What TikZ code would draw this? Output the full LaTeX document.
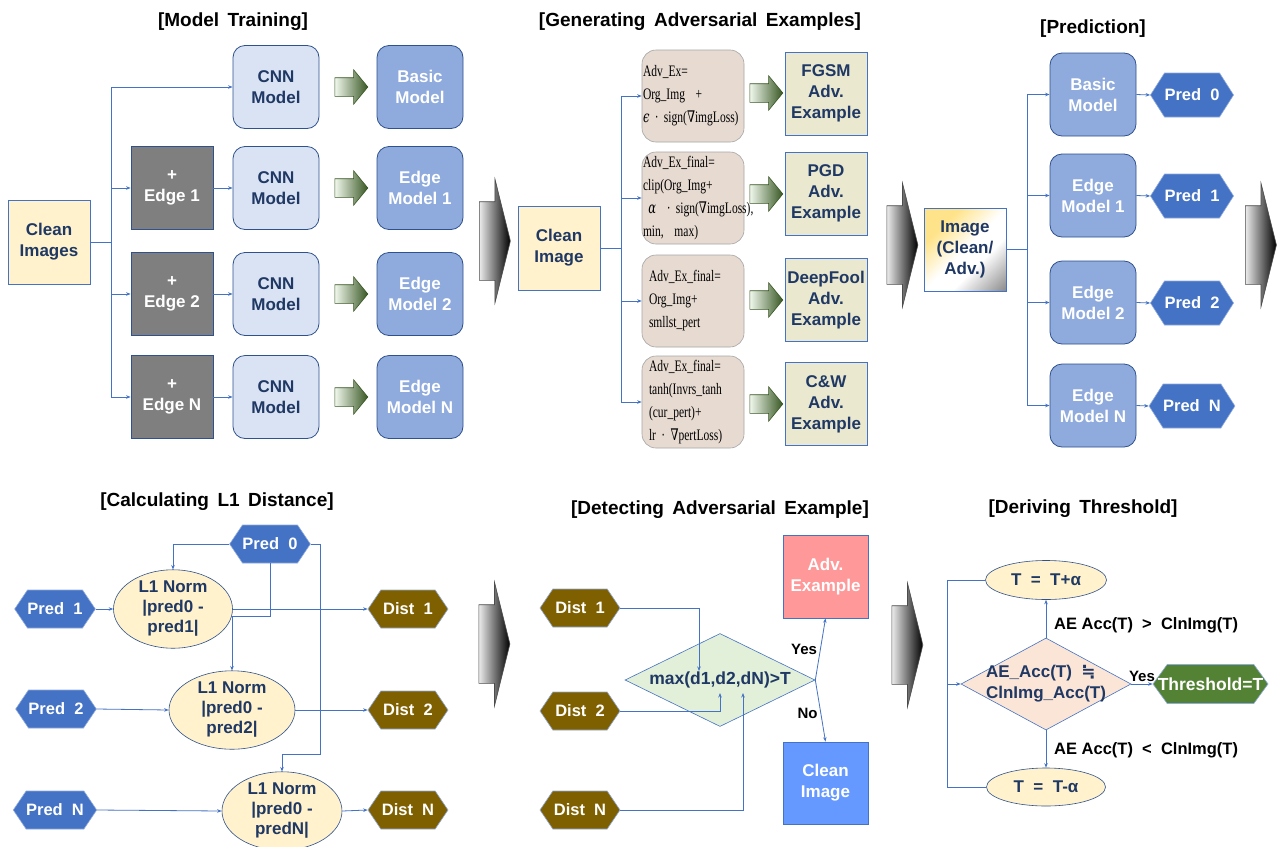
\documentclass[tikz,border=0pt]{standalone}
\usepackage{fontspec}
\setmainfont{Liberation Sans}
\newfontfamily\frm[FakeStretch=0.72]{Liberation Serif}
\newfontfamily\frmsym[FakeStretch=0.72]{DejaVu Serif}
\newfontfamily\djv{DejaVu Sans}
\usetikzlibrary{shapes.geometric,shapes.symbols,shapes.arrows,arrows.meta,calc}
\definecolor{navy}{HTML}{1F3864}
\definecolor{linkblue}{HTML}{4472C4}
\definecolor{cleanfill}{HTML}{FFF2CC}
\definecolor{boxborder}{HTML}{2F528F}
\definecolor{cnnfill}{HTML}{DAE3F3}
\definecolor{modelfill}{HTML}{8FAADC}
\definecolor{edgegray}{HTML}{7F7F7F}
\definecolor{frmfill}{HTML}{E6DAD1}
\definecolor{frmborder}{HTML}{A5A5A5}
\definecolor{resfill}{HTML}{EAE8CF}
\definecolor{predfill}{HTML}{4472C4}
\definecolor{hexborder}{HTML}{8FAADC}
\definecolor{distfill}{HTML}{7F6000}
\definecolor{advfill}{HTML}{FF9999}
\definecolor{clnfill}{HTML}{6699FF}
\definecolor{diagreen}{HTML}{E2F0D9}
\definecolor{peach}{HTML}{FBE5D6}
\definecolor{thrgreen}{HTML}{548235}
\definecolor{glight}{HTML}{F0F7EC}
\definecolor{gdark}{HTML}{385723}
\definecolor{imgyellow}{HTML}{FFE38A}
\definecolor{imgdark}{HTML}{404040}
\pgfdeclarehorizontalshading{imgsh}{100bp}{color(0bp)=(imgyellow); color(30bp)=(imgyellow); color(50bp)=(white); color(62bp)=(white); color(100bp)=(imgdark)}
\tikzset{
  base/.style={font=\fontsize{17}{21}\selectfont\bfseries, align=center, inner sep=0pt, text=navy},
  ttl/.style={font=\fontsize{19}{22}\selectfont\bfseries, text=black, inner sep=0pt},
  cleanbox/.style={base, draw=linkblue, fill=cleanfill, line width=0.8pt, minimum width=82pt, minimum height=84pt},
  edgebox/.style={base, draw=boxborder, fill=edgegray, text=white, line width=0.8pt, minimum width=82pt, minimum height=83pt},
  cnnbox/.style={base, draw=boxborder, fill=cnnfill, line width=0.8pt, rounded corners=12pt, minimum width=86pt, minimum height=83pt},
  modelbox/.style={cnnbox, fill=modelfill, text=white},
  frmbox/.style={draw=frmborder, fill=frmfill, line width=0.6pt, rounded corners=14pt, minimum width=102pt, minimum height=92pt, text width=100pt, align=left, inner sep=1pt, font=\frm\fontsize{16}{23}\selectfont, text=black},
  resbox/.style={base, draw=linkblue, fill=resfill, line width=0.8pt, minimum width=82pt, minimum height=83pt},
  hexbase/.style={signal, signal to=east and west, inner sep=0pt, font=\fontsize{16.5}{19}\selectfont\bfseries, text=white, line width=0.6pt},
  predhex/.style={hexbase, signal pointer angle=115, fill=predfill, draw=hexborder, minimum width=80pt, minimum height=44pt},
  predhexs/.style={hexbase, signal pointer angle=112, fill=predfill, draw=hexborder, minimum width=80pt, minimum height=38pt},
  disthex/.style={hexbase, signal pointer angle=112, fill=distfill, draw=hexborder, minimum width=80pt, minimum height=38pt},
  l1ell/.style={base, ellipse, draw=boxborder, fill=cleanfill, line width=0.6pt, font=\fontsize{17}{20}\selectfont\bfseries},
  link/.style={draw=linkblue, line width=0.8pt},
  arr/.style={link, -{Stealth[length=4.5pt,width=3.5pt]}},
  garrow/.style={single arrow, single arrow head extend=8pt, single arrow tip angle=101, minimum height=33pt, inner xsep=0pt, inner ysep=9pt, draw=gdark, left color=glight, right color=gdark, line width=0.6pt},
  bigarrow/.style={single arrow, single arrow head extend=22.5pt, single arrow tip angle=152, minimum height=31pt, inner xsep=0pt, inner ysep=39pt, draw=black!70, left color=black!8, right color=black, line width=0.6pt},
  yn/.style={font=\fontsize{15}{17}\selectfont\bfseries, text=black, inner sep=1pt},
  lab/.style={font=\fontsize{16.5}{19}\selectfont\bfseries, text=black, inner sep=0pt},
}
\begin{document}
\begin{tikzpicture}[x=1pt,y=-1pt]
\useasboundingbox[fill=white] (0,0) rectangle (1279,846);

% ---------------- Model Training ----------------
\node[ttl] (t1) at (233,22) {[Model\,\ Training]};
\node[cleanbox] (ci) at (49,242) {Clean\\Images};
\node[edgebox] (e1) at (172,188) {+\\Edge 1};
\node[edgebox] (e2) at (172,294) {+\\Edge 2};
\node[edgebox] (eN) at (172,397) {+\\Edge N};
\node[cnnbox] (c0) at (276,87) {CNN\\Model};
\node[cnnbox] (c1) at (276,188) {CNN\\Model};
\node[cnnbox] (c2) at (276,294) {CNN\\Model};
\node[cnnbox] (cN) at (276,397) {CNN\\Model};
\node[garrow] (g0) at (347.5,87) {};
\node[garrow] (g1) at (347.5,188) {};
\node[garrow] (g2) at (347.5,294) {};
\node[garrow] (g3) at (347.5,397) {};
\node[modelbox] (m0) at (420,87) {Basic\\Model};
\node[modelbox] (m1) at (420,188) {Edge\\Model 1};
\node[modelbox] (m2) at (420,294) {Edge\\Model 2};
\node[modelbox] (mN) at (420,397) {Edge\\Model N};
\coordinate (j1) at (111,242);
\draw[link] (ci.east) -- (j1);
\draw[arr] (j1) |- (c0.west);
\draw[arr] (j1) |- (e1.west);
\draw[arr] (j1) |- (e2.west);
\draw[arr] (j1) |- (eN.west);
\draw[arr] (e1.east) -- (c1.west);
\draw[arr] (e2.east) -- (c2.west);
\draw[arr] (eN.east) -- (cN.west);

\node[bigarrow] (s1) at (490,241) {};

% ---------------- Generating Adversarial Examples ----------------
\node[ttl] (t2) at (700,22) {[Generating\,\ Adversarial\,\ Examples]};
\node[cleanbox] (ci2) at (559,248) {Clean\\Image};
\node[frmbox] (f1) at (693,96) {Adv\_Ex=\\Org\_Img~~+\\{\frmsym\itshape ϵ}~·~sign({\frmsym ∇}imgLoss)};
\node[frmbox] (f2) at (693,198) {Adv\_Ex\_final=\\clip(Org\_Img+\\~{\frmsym\itshape α}~~·~sign({\frmsym ∇}imgLoss),\\min,~~max)};
\node[frmbox] (f3) at (693,301) {\hspace*{6pt}Adv\_Ex\_final=\\\hspace*{6pt}Org\_Img+\\\hspace*{6pt}smllst\_pert};
\node[frmbox] (f4) at (693,402) {\hspace*{6pt}Adv\_Ex\_final=\\\hspace*{6pt}tanh(Invrs\_tanh\\\hspace*{6pt}(cur\_pert)+\\\hspace*{6pt}lr~·~{\frmsym ∇}pertLoss)};
\node[garrow] (h1) at (762.5,93) {};
\node[garrow] (h2) at (762.5,194) {};
\node[garrow] (h3) at (762.5,300) {};
\node[garrow] (h4) at (762.5,404) {};
\node[resbox] (r1) at (826,93.5) {FGSM\\Adv.\\Example};
\node[resbox] (r2) at (826,193.5) {PGD\\Adv.\\Example};
\node[resbox] (r3) at (826,300) {DeepFool\\Adv.\\Example};
\node[resbox] (r4) at (826,404) {C\&W\\Adv.\\Example};
\coordinate (j2) at (621,248);
\draw[link] (ci2.east) -- (j2);
\draw[arr] (j2) |- (f1.west);
\draw[arr] (j2) |- (f2.west);
\draw[arr] (j2) |- (f3.west);
\draw[arr] (j2) |- (f4.west);

\node[bigarrow] (s2) at (897.5,245) {};

% ---------------- Prediction ----------------
\node[ttl] (t3) at (1093,29) {[Prediction]};
\node[base, draw=linkblue, line width=0.8pt, shading=imgsh, shading angle=-45, minimum width=82pt, minimum height=83pt] (img) at (965,249.5) {Image\\(Clean/\\Adv.)};
\node[modelbox] (b0) at (1093,94.5) {Basic\\Model};
\node[modelbox] (b1) at (1093,195.5) {Edge\\Model 1};
\node[modelbox] (b2) at (1093,302.5) {Edge\\Model 2};
\node[modelbox] (bN) at (1093,405.5) {Edge\\Model N};
\node[predhex] (x0) at (1192,95) {Pred\ \ 0};
\node[predhex] (x1) at (1192,196) {Pred\ \ 1};
\node[predhex] (x2) at (1192,303) {Pred\ \ 2};
\node[predhex] (xN) at (1192,406) {Pred\ \ N};
\coordinate (j3) at (1027,249.5);
\draw[link] (img.east) -- (j3);
\draw[arr] (j3) |- (b0.west);
\draw[arr] (j3) |- (b1.west);
\draw[arr] (j3) |- (b2.west);
\draw[arr] (j3) |- (bN.west);
\draw[arr] (b0.east) -- (x0.west);
\draw[arr] (b1.east) -- (x1.west);
\draw[arr] (b2.east) -- (x2.west);
\draw[arr] (bN.east) -- (xN.west);

\node[bigarrow] (s3) at (1256,245) {};

% ---------------- Calculating L1 Distance ----------------
\node[ttl] (t4) at (217,502) {[Calculating\,\ L1\,\ Distance]};
\node[predhexs] (p0) at (270,544) {Pred\ \ 0};
\node[predhexs] (p1) at (55,609) {Pred\ \ 1};
\node[predhexs] (p2) at (56,709) {Pred\ \ 2};
\node[predhexs] (pN) at (55,810) {Pred\ \ N};
\node[l1ell, minimum width=119pt, minimum height=76pt] (n1) at (173,609) {L1 Norm\\|pred0 -\\pred1|};
\node[l1ell, minimum width=126pt, minimum height=76pt] (n2) at (232,710) {L1 Norm\\|pred0 -\\pred2|};
\node[l1ell, minimum width=120pt, minimum height=72pt] (nN) at (282,811) {L1 Norm\\|pred0 -\\predN|};
\node[disthex] (d1) at (408,609) {Dist\ \ 1};
\node[disthex] (d2) at (408,710) {Dist\ \ 2};
\node[disthex] (dN) at (408,810) {Dist\ \ N};
\coordinate (k1) at (232,616);
\coordinate (k2) at (320,754);
\draw[arr] (p0.west) -| (n1.north);
\draw[arr] (p0.south) |- (k1) -- (n2.north);
\draw[arr] (p0.east) -| (k2) -| (nN.north);
\draw[arr] (p1.east) -- (n1.west);
\draw[arr] (p2.east) -- (n2.west);
\draw[arr] (pN.east) -- (nN.west);
\draw[arr] (n1.east) -- (d1.west);
\draw[arr] (n2.east) -- (d2.west);
\draw[arr] (nN.east) -- (dN.west);

\node[bigarrow] (s4) at (489.5,644) {};

% ---------------- Detecting Adversarial Example ----------------
\node[ttl] (t5) at (720,510) {[Detecting\,\ Adversarial\,\ Example]};
\node[disthex] (q1) at (580,608) {Dist\ \ 1};
\node[disthex] (q2) at (580,711) {Dist\ \ 2};
\node[disthex] (qN) at (580,810) {Dist\ \ N};
\node[diamond, draw=linkblue, fill=diagreen, line width=0.6pt, minimum width=190pt, minimum height=93pt, inner sep=0pt, label={[base, font=\fontsize{17.5}{20}\selectfont\bfseries]center:{max(d1,d2,dN)>T}}] (dm) at (720,680) {};
\node[base, text=white, draw=linkblue, fill=advfill, line width=0.8pt, minimum width=85pt, minimum height=83pt] (adv) at (825.5,576.5) {Adv.\\Example};
\node[base, text=white, draw=linkblue, fill=clnfill, line width=0.8pt, minimum width=85pt, minimum height=82pt] (cln) at (825.5,783) {Clean\\Image};
\coordinate (u1) at (699,671);
\coordinate (u2) at (720,693);
\coordinate (u3) at (743,693);
\draw[arr] (q1.east) -| (u1);
\draw[arr] (q2.east) -| (u2);
\draw[arr] (qN.east) -| (u3);
\draw[arr] (dm.east) -- (adv.south) node[yn, pos=0.5, left=2pt] {Yes};
\draw[arr] (dm.east) -- (cln.north) node[yn, pos=0.55, left=2pt] {No};

\node[bigarrow] (s5) at (902.5,645) {};

% ---------------- Deriving Threshold ----------------
\node[ttl] (t6) at (1083,509) {[Deriving\,\ Threshold]};
\node[l1ell, minimum width=121pt, minimum height=39pt] (tp) at (1046,580) {T\ \ =\ \ T+α};
\node[l1ell, minimum width=119pt, minimum height=38pt] (tm) at (1046,787) {T\ \ =\ \ T-α};
\node[diamond, draw=linkblue, fill=peach, line width=0.6pt, minimum width=170pt, minimum height=92pt, inner sep=0pt, label={[base, align=left, font=\fontsize{17}{21}\selectfont\bfseries]center:{AE\_Acc(T)\ \ {\djv\bfseries ≒}\\ClnImg\_Acc(T)}}] (dr) at (1046,684) {};
\node[hexbase, signal pointer angle=108, fill=thrgreen, draw=hexborder, minimum width=115pt, minimum height=39pt, label={[font=\fontsize{17.5}{20}\selectfont\bfseries, text=white, inner sep=0pt]center:{Threshold=T}}] (thr) at (1210.5,684) {};
\node[lab, anchor=west] (c1l) at (1054,625) {AE Acc(T)\ \ >\ \ ClnImg(T)};
\node[lab, anchor=west] (c2l) at (1054,750) {AE Acc(T)\ \ <\ \ ClnImg(T)};
\coordinate (jr) at (947,684);
\draw[arr] (dr.north) -- (tp.south);
\draw[arr] (dr.south) -- (tm.north);
\draw[arr] (dr.east) -- (thr.west) node[yn, midway, above=1pt] {Yes};
\draw[link] (tp.west) -| (jr);
\draw[link] (tm.west) -| (jr);
\draw[arr] (jr) -- (dr.west);
\end{tikzpicture}
\end{document}
